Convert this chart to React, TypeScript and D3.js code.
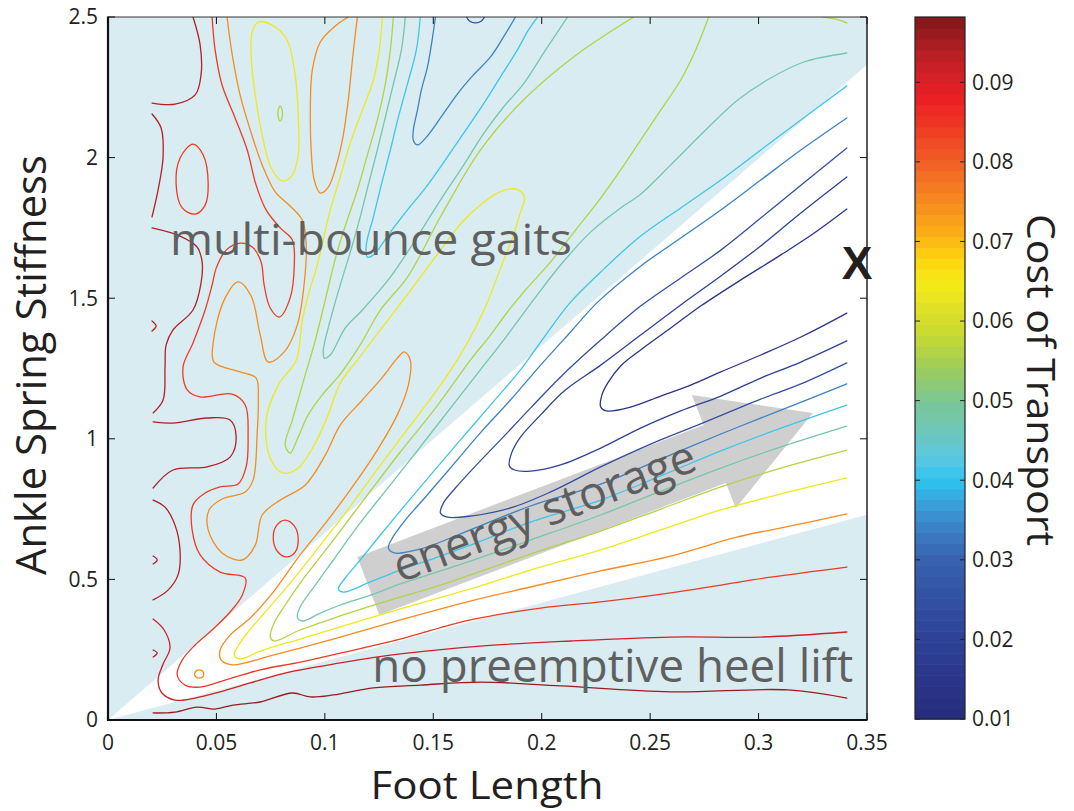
import React from 'react';
import * as d3 from 'd3';

// ---------- axes ----------
const xTicks = [0, 0.05, 0.1, 0.15, 0.2, 0.25, 0.3, 0.35];
const xTickLabels = ['0', '0.05', '0.1', '0.15', '0.2', '0.25', '0.3', '0.35'];
const yTicks = [0, 0.5, 1, 1.5, 2, 2.5];
const yTickLabels = ['0', '0.5', '1', '1.5', '2', '2.5'];
const cbTicks = [0.01, 0.02, 0.03, 0.04, 0.05, 0.06, 0.07, 0.08, 0.09];
const cbTickLabels = ['0.01', '0.02', '0.03', '0.04', '0.05', '0.06', '0.07', '0.08', '0.09'];
const cbDomain = [0.01, 0.0982];

// ---------- colormap ----------
const cmapValues = [0.01, 0.015, 0.02, 0.025, 0.03, 0.033, 0.037, 0.04, 0.043, 0.046, 0.05, 0.054, 0.058, 0.062, 0.065, 0.068, 0.071, 0.075, 0.08, 0.085, 0.088, 0.091, 0.094, 0.097, 0.099];
const cmapColors = ['#262C7C', '#2A3589', '#2E4296', '#3250A2', '#3862AE', '#3B78BF', '#3A9FDA', '#2EC3F0', '#5CC8E0', '#6DC7BC', '#7BC795', '#9DCC5C', '#C4D932', '#E2E224', '#F6EB16', '#FDD20D', '#FBAD17', '#F68B1F', '#F15F25', '#EE3624', '#EC1E24', '#D22027', '#B31F25', '#8E1A1E', '#771416'];

// ---------- regions ----------
const wedge = [[0, 0], [0.35, 2.33], [0.35, 0.73]];
const arrowShape = [[0.1251, 0.373], [0.115, 0.58], [0.2747, 1.049], [0.2692, 1.156], [0.325, 1.092], [0.2895, 0.754], [0.2849, 0.843]];

// ---------- contour lines [foot length, stiffness] ----------
const L1 = [[0.3407,1.817],[0.325,1.728],[0.3103,1.654],[0.2918,1.565],[0.2733,1.472],[0.2595,1.394],[0.2456,1.316],[0.2364,1.259],[0.2304,1.198],[0.2276,1.152],[0.2272,1.113],[0.2299,1.099],[0.241,1.113],[0.2549,1.152],[0.2687,1.191],[0.2826,1.238],[0.301,1.298],[0.3195,1.362],[0.3407,1.447]];
const L2 = [[0.3407,1.931],[0.3195,1.803],[0.301,1.686],[0.2826,1.579],[0.2641,1.476],[0.2456,1.369],[0.2272,1.262],[0.211,1.174],[0.1995,1.085],[0.1902,1.006],[0.1861,0.949],[0.1851,0.903],[0.1875,0.889],[0.1948,0.885],[0.2087,0.907],[0.2272,0.967],[0.2456,1.038],[0.2641,1.099],[0.2826,1.152],[0.301,1.216],[0.3195,1.273],[0.3407,1.348]];
const L3 = [[0.3407,2.034],[0.3195,1.902],[0.301,1.785],[0.2826,1.671],[0.2641,1.572],[0.2456,1.472],[0.2272,1.351],[0.2087,1.22],[0.1948,1.109],[0.181,0.996],[0.1694,0.903],[0.1602,0.825],[0.1547,0.772],[0.1533,0.736],[0.1561,0.722],[0.1671,0.725],[0.1856,0.754],[0.2041,0.811],[0.2272,0.9],[0.2502,0.981],[0.2733,1.053],[0.301,1.141],[0.3195,1.195],[0.3407,1.27]];
const L4 = [[0.3407,2.141],[0.3195,2.027],[0.301,1.92],[0.2826,1.814],[0.2641,1.714],[0.2456,1.614],[0.2258,1.486],[0.2133,1.38],[0.1995,1.262],[0.1856,1.138],[0.1717,1.021],[0.1579,0.896],[0.1464,0.793],[0.1371,0.711],[0.1311,0.647],[0.1293,0.612],[0.132,0.594],[0.144,0.608],[0.1671,0.676],[0.1948,0.761],[0.2272,0.839],[0.2549,0.928],[0.2826,1.017],[0.3103,1.102],[0.3407,1.195]];
const L5 = [[0.3407,2.255],[0.3195,2.134],[0.301,2.027],[0.2826,1.92],[0.2641,1.821],[0.2456,1.721],[0.2272,1.593],[0.2133,1.486],[0.2018,1.369],[0.1902,1.245],[0.1764,1.12],[0.1625,0.996],[0.1487,0.871],[0.1371,0.765],[0.1256,0.658],[0.1163,0.569],[0.1094,0.505],[0.1062,0.466],[0.1085,0.455],[0.121,0.491],[0.1348,0.533],[0.1533,0.583],[0.1671,0.622],[0.1948,0.704],[0.2272,0.782],[0.2549,0.868],[0.2826,0.957],[0.3103,1.038],[0.3407,1.12]];
const L6 = [[0.3407,2.372],[0.3209,2.34],[0.3056,2.283],[0.2904,2.205],[0.2756,2.098],[0.2595,1.974],[0.2456,1.87],[0.2364,1.821],[0.2225,1.735],[0.2087,1.618],[0.1962,1.494],[0.1842,1.369],[0.1717,1.245],[0.1579,1.109],[0.144,0.971],[0.1302,0.836],[0.1163,0.701],[0.1039,0.569],[0.0956,0.48],[0.0886,0.402],[0.0873,0.366],[0.0896,0.352],[0.0979,0.38],[0.1071,0.409],[0.121,0.444],[0.1348,0.484],[0.1533,0.53],[0.1671,0.565],[0.1948,0.64],[0.2272,0.729],[0.2549,0.814],[0.2826,0.896],[0.3103,0.971],[0.3407,1.045]];
const L7 = [[0.277,2.5],[0.271,2.383],[0.2641,2.276],[0.2549,2.169],[0.2456,2.062],[0.2364,1.956],[0.2272,1.856],[0.2156,1.742],[0.2041,1.629],[0.1925,1.529],[0.1842,1.451],[0.1764,1.369],[0.1671,1.28],[0.151,1.109],[0.1348,0.953],[0.1196,0.8],[0.1039,0.64],[0.0886,0.487],[0.0817,0.409],[0.0762,0.338],[0.0748,0.295],[0.0766,0.281],[0.0886,0.32],[0.1071,0.37],[0.121,0.405],[0.1348,0.437],[0.1533,0.48],[0.1671,0.516],[0.1948,0.59],[0.2272,0.672],[0.2549,0.75],[0.2826,0.829],[0.3103,0.896],[0.3407,0.96]];
const L8 = [[0.3407,0.861],[0.3103,0.804],[0.2826,0.747],[0.2549,0.676],[0.2272,0.605],[0.1948,0.533],[0.1671,0.466],[0.1348,0.395],[0.1071,0.331],[0.0886,0.288],[0.0702,0.245],[0.0609,0.217],[0.0582,0.231],[0.06,0.263],[0.0646,0.313],[0.0725,0.384],[0.084,0.487],[0.0979,0.622],[0.1094,0.736],[0.1233,0.882],[0.1371,1.024],[0.151,1.166],[0.1616,1.287],[0.1694,1.394],[0.1754,1.494],[0.181,1.607],[0.1865,1.714],[0.1902,1.806],[0.1921,1.856],[0.1893,1.885],[0.1847,1.888],[0.1787,1.87],[0.1717,1.831],[0.1634,1.771],[0.1533,1.671],[0.1431,1.565],[0.1362,1.494],[0.1256,1.387],[0.115,1.28],[0.1071,1.198],[0.1011,1.077],[0.0946,0.971],[0.0877,0.896],[0.0808,0.878],[0.0748,0.932],[0.0729,1.067],[0.0785,1.191],[0.0868,1.28],[0.0896,1.422],[0.0923,1.511],[0.0965,1.618],[0.1025,1.814],[0.1071,1.931],[0.1117,2.052],[0.1173,2.169],[0.1224,2.276],[0.1251,2.383],[0.1265,2.5]];
const L9 = [[0.0549,2.5],[0.0573,2.365],[0.0609,2.223],[0.0656,2.098],[0.0711,1.974],[0.0771,1.878],[0.084,1.828],[0.0896,1.778],[0.0914,1.689],[0.0905,1.554],[0.0873,1.405],[0.0813,1.309],[0.0739,1.273],[0.0702,1.369],[0.066,1.508],[0.06,1.558],[0.0536,1.494],[0.0485,1.341],[0.0489,1.273],[0.0609,1.238],[0.0683,1.216],[0.0693,1.138],[0.0688,1.021],[0.0669,0.853],[0.0633,0.811],[0.0526,0.786],[0.0466,0.747],[0.0462,0.676],[0.0526,0.594],[0.0619,0.569],[0.0679,0.622],[0.0711,0.729],[0.0794,0.782],[0.091,0.836],[0.1002,0.942],[0.1071,1.049],[0.1173,1.138],[0.127,1.223],[0.1334,1.287],[0.1367,1.309],[0.1394,1.28],[0.1385,1.191],[0.1334,1.085],[0.1242,0.96],[0.1127,0.829],[0.1011,0.708],[0.0886,0.587],[0.0762,0.455],[0.0656,0.363],[0.0563,0.302],[0.0517,0.249],[0.0522,0.213],[0.0573,0.196],[0.0633,0.203],[0.0748,0.228],[0.0886,0.256],[0.1071,0.295],[0.1348,0.356],[0.1671,0.423],[0.1948,0.473],[0.2272,0.53],[0.2595,0.583],[0.2904,0.651],[0.3149,0.69],[0.3407,0.733]];
const L10 = [[0.048,2.5],[0.0494,2.383],[0.0526,2.258],[0.0586,2.141],[0.0642,2.027],[0.0683,1.902],[0.0729,1.814],[0.0794,1.75],[0.085,1.707],[0.0859,1.618],[0.084,1.501],[0.079,1.433],[0.0748,1.465],[0.072,1.547],[0.0706,1.629],[0.0665,1.682],[0.0609,1.696],[0.0545,1.671],[0.0499,1.607],[0.048,1.547],[0.0448,1.458],[0.0392,1.341],[0.0346,1.255],[0.0365,1.174],[0.0425,1.149],[0.0573,1.159],[0.0633,1.12],[0.0646,1.006],[0.0637,0.9],[0.06,0.839],[0.0517,0.829],[0.0448,0.807],[0.0392,0.765],[0.0388,0.676],[0.0425,0.587],[0.0517,0.526],[0.0633,0.505],[0.0619,0.444],[0.0563,0.384],[0.048,0.32],[0.0402,0.267],[0.0342,0.213],[0.0319,0.16],[0.0356,0.124],[0.0425,0.117],[0.054,0.142],[0.0702,0.178],[0.0886,0.206],[0.1071,0.238],[0.1348,0.288],[0.1671,0.356],[0.1995,0.398],[0.2272,0.42],[0.2595,0.452],[0.2826,0.48],[0.3056,0.508],[0.3407,0.544]];
const L11 = [[0.3407,0.313],[0.301,0.295],[0.2595,0.295],[0.2133,0.281],[0.1717,0.263],[0.1348,0.235],[0.1071,0.203],[0.084,0.171],[0.0656,0.132],[0.0517,0.1],[0.0402,0.078],[0.0309,0.071],[0.0249,0.096],[0.0231,0.142],[0.0254,0.199],[0.0286,0.256],[0.0259,0.32],[0.0208,0.359]];
const L12 = [[0.0208,0.025],[0.0309,0.028],[0.0411,0.046],[0.0494,0.039],[0.0577,0.053],[0.0702,0.064],[0.085,0.096],[0.0933,0.082],[0.1039,0.089],[0.1224,0.114],[0.144,0.124],[0.1717,0.135],[0.2087,0.121],[0.2595,0.1],[0.3135,0.107],[0.3407,0.078]];
const edgeA = [[0.0392,2.5],[0.0425,2.4],[0.0429,2.294],[0.0402,2.223],[0.0309,2.19],[0.0203,2.194]];
const edgeB = [[0.0203,2.155],[0.0245,2.105],[0.0254,2.002],[0.0231,1.885],[0.0203,1.789]];
const edgeC = [[0.0203,1.75],[0.0332,1.721],[0.0411,1.682],[0.0434,1.629],[0.0429,1.554],[0.0392,1.458],[0.03,1.387],[0.0268,1.334],[0.0263,1.255],[0.0254,1.138],[0.0208,1.092]];
const edgeD = [[0.0203,1.419],[0.0222,1.401],[0.0203,1.383]];
const edgeE = [[0.0208,1.06],[0.03,1.056],[0.0457,1.074],[0.0563,1.067],[0.0591,1.006],[0.0563,0.935],[0.0457,0.9],[0.03,0.889],[0.0208,0.825]];
const edgeF = [[0.0208,0.782],[0.0263,0.757],[0.0309,0.693],[0.0332,0.605],[0.0323,0.516],[0.0277,0.462],[0.0208,0.427]];
const edgeG = [[0.0208,0.583],[0.0227,0.569],[0.0208,0.555]];
const edgeH = [[0.0208,0.249],[0.0227,0.238],[0.0208,0.224]];
const redLoopTop = [[0.0392,2.048],[0.0439,2.009],[0.0462,1.906],[0.0448,1.831],[0.0402,1.799],[0.0342,1.821],[0.0314,1.906],[0.0332,1.998]];
const redLoopMid = [[0.0817,0.711],[0.0859,0.69],[0.0877,0.647],[0.0863,0.597],[0.0822,0.58],[0.078,0.601],[0.0762,0.647],[0.0776,0.69]];
const yellowLoop = [[0.0693,2.482],[0.0757,2.471],[0.0826,2.418],[0.0863,2.294],[0.0877,2.151],[0.0877,2.009],[0.085,1.938],[0.0803,1.917],[0.0753,1.963],[0.0711,2.08],[0.0679,2.223],[0.066,2.365],[0.0665,2.447]];
const greenDot = [[0.0794,2.183],[0.0803,2.169],[0.0803,2.144],[0.0794,2.13],[0.0785,2.144],[0.0785,2.169]];
const orangeDot = [[0.042,0.178],[0.0439,0.171],[0.0439,0.156],[0.042,0.149],[0.0402,0.156],[0.0402,0.171]];
const orangeTop = [[0.1108,2.5],[0.1048,2.468],[0.0979,2.411],[0.0942,2.311],[0.0933,2.169],[0.0937,2.027],[0.0951,1.92],[0.0979,1.874],[0.1016,1.895],[0.1057,1.984],[0.1085,2.08],[0.1108,2.205],[0.1127,2.347],[0.114,2.436],[0.115,2.5]];
const limeValley = [[0.1316,2.5],[0.1302,2.383],[0.1279,2.262],[0.1242,2.134],[0.1196,2.009],[0.115,1.885],[0.1103,1.778],[0.1053,1.654],[0.1002,1.494],[0.0956,1.351],[0.0896,1.191],[0.085,1.067],[0.0817,0.978],[0.084,0.949],[0.0877,1.006],[0.0923,1.085],[0.0988,1.156],[0.1071,1.23],[0.1163,1.334],[0.1256,1.458],[0.1381,1.575],[0.1533,1.789],[0.1717,2.027],[0.1916,2.205],[0.2147,2.358],[0.2424,2.5]];
const greenValley = [[0.1371,2.5],[0.1353,2.383],[0.1316,2.262],[0.1279,2.144],[0.1242,2.027],[0.12,1.902],[0.1163,1.789],[0.1127,1.689],[0.1071,1.547],[0.1025,1.422],[0.0993,1.316],[0.0997,1.287],[0.1025,1.298],[0.1094,1.394],[0.1173,1.458],[0.1302,1.575],[0.1417,1.707],[0.1533,1.849],[0.1634,1.966],[0.1731,2.084],[0.1824,2.18],[0.1916,2.262],[0.2018,2.383],[0.2119,2.5]];
const cyanValley = [[0.144,2.5],[0.1422,2.383],[0.1381,2.262],[0.1339,2.144],[0.1302,2.027],[0.126,1.902],[0.1224,1.789],[0.1191,1.689],[0.1196,1.646],[0.1224,1.654],[0.1302,1.735],[0.1381,1.814],[0.1464,1.892],[0.1533,1.966],[0.1634,2.08],[0.1731,2.19],[0.181,2.287],[0.1888,2.383],[0.1939,2.454],[0.1981,2.5]];
const blueValley = [[0.151,2.5],[0.1491,2.4],[0.1473,2.322],[0.1445,2.24],[0.1427,2.169],[0.1408,2.098],[0.1408,2.062],[0.1427,2.045],[0.1473,2.077],[0.1533,2.141],[0.1611,2.226],[0.1685,2.294],[0.1764,2.358],[0.1824,2.429],[0.1879,2.5]];
const navyValley = [[0.1653,2.5],[0.1667,2.486],[0.1694,2.479],[0.1722,2.486],[0.1736,2.5]];
const limeCorner = [[0.3297,2.5],[0.3352,2.493],[0.3407,2.479]];

const contourSet = [
  { level: 0.096, pts: L12, closed: false },
  { level: 0.091, pts: L11, closed: false },
  { level: 0.094, pts: edgeA, closed: false },
  { level: 0.094, pts: edgeB, closed: false },
  { level: 0.094, pts: edgeC, closed: false },
  { level: 0.094, pts: edgeD, closed: false },
  { level: 0.094, pts: edgeE, closed: false },
  { level: 0.094, pts: edgeF, closed: false },
  { level: 0.094, pts: edgeG, closed: false },
  { level: 0.094, pts: edgeH, closed: false },
  { level: 0.0845, pts: L10, closed: false },
  { level: 0.0845, pts: redLoopTop, closed: true },
  { level: 0.0845, pts: redLoopMid, closed: true },
  { level: 0.075, pts: L9, closed: false },
  { level: 0.075, pts: orangeTop, closed: false },
  { level: 0.075, pts: orangeDot, closed: true },
  { level: 0.064, pts: L8, closed: false },
  { level: 0.064, pts: yellowLoop, closed: true },
  { level: 0.056, pts: L7, closed: false },
  { level: 0.056, pts: limeValley, closed: false },
  { level: 0.056, pts: greenDot, closed: true },
  { level: 0.056, pts: limeCorner, closed: false },
  { level: 0.048, pts: L6, closed: false },
  { level: 0.048, pts: greenValley, closed: false },
  { level: 0.041, pts: L5, closed: false },
  { level: 0.041, pts: cyanValley, closed: false },
  { level: 0.034, pts: L4, closed: false },
  { level: 0.034, pts: blueValley, closed: false },
  { level: 0.025, pts: L3, closed: false },
  { level: 0.02, pts: L2, closed: false },
  { level: 0.022, pts: navyValley, closed: false },
  { level: 0.015, pts: L1, closed: false },
];

// ---------- annotations (data coordinates) ----------
const labelMulti = { text: 'multi-bounce gaits', at: [0.0286, 1.654] };
const labelHeel = { text: 'no preemptive heel lift', at: [0.1219, 0.135] };
const labelEnergy = { text: 'energy storage', at: [0.1348, 0.487] };
const labelX = { text: 'X', at: [0.3454, 1.568] };

const FONT = "'Open Sans', 'Noto Sans', 'DejaVu Sans', sans-serif";

export default function App() {
  const x = d3.scaleLinear().domain([0, 0.35]).range([108, 867]);
  const y = d3.scaleLinear().domain([0, 2.5]).range([720, 17]);
  const cb = d3.scaleLinear().domain(cbDomain).range([719, 17]);
  const cmap = d3.scaleLinear().domain(cmapValues).range(cmapColors as any).interpolate(d3.interpolateRgb as any).clamp(true) as any;

  const openLine = d3.line().x((d: any) => x(d[0])).y((d: any) => y(d[1])).curve(d3.curveCatmullRom.alpha(0.5));
  const closedLine = d3.line().x((d: any) => x(d[0])).y((d: any) => y(d[1])).curve(d3.curveCatmullRomClosed.alpha(0.5));
  const poly = (pts: number[][]) => pts.map(p => `${x(p[0])},${y(p[1])}`).join(' ');

  const nBands = 64;
  const step = (cbDomain[1] - cbDomain[0]) / nBands;
  const bands = d3.range(nBands).map(i => cbDomain[0] + i * step);

  const px0 = x(0), px1 = x(0.35), py0 = y(0), py1 = y(2.5);

  return (
    <svg width={1074} height={811} style={{ position: 'absolute', left: 0, top: 0, background: '#fff' }} fontFamily={FONT}>
      <defs>
        <clipPath id="plotClip">
          <rect x={px0} y={py1} width={px1 - px0} height={py0 - py1} />
        </clipPath>
      </defs>
      <rect x={0} y={0} width={1074} height={811} fill="#fff" />
      {/* background regions */}
      <rect x={px0} y={py1} width={px1 - px0} height={py0 - py1} fill="#D9ECF1" />
      <polygon points={poly(wedge)} fill="#ffffff" clipPath="url(#plotClip)" />
      <polygon points={poly(arrowShape)} fill="#CFCFCF" />
      {/* contours */}
      <g clipPath="url(#plotClip)" fill="none" strokeLinejoin="round" strokeLinecap="round">
        {contourSet.map((c, i) => (
          <path key={i} d={(c.closed ? closedLine : openLine)(c.pts as any) || ''} stroke={cmap(c.level)} strokeWidth={1.3} />
        ))}
      </g>
      {/* annotations */}
      <text x={x(labelMulti.at[0])} y={y(labelMulti.at[1])} fontSize={44} fill="#606060" textLength={402} lengthAdjust="spacingAndGlyphs">{labelMulti.text}</text>
      <text x={x(labelHeel.at[0])} y={y(labelHeel.at[1])} fontSize={45} fill="#606060" textLength={481} lengthAdjust="spacingAndGlyphs">{labelHeel.text}</text>
      <text transform={`translate(${x(labelEnergy.at[0])},${y(labelEnergy.at[1])}) rotate(-20.8)`} fontSize={46} fill="#5E5E5E" textLength={320} lengthAdjust="spacingAndGlyphs">{labelEnergy.text}</text>
      <text x={x(labelX.at[0])} y={y(labelX.at[1])} fontSize={46} fontWeight="bold" fill="#231F20" textAnchor="middle" fontFamily="'Liberation Sans', Arial, sans-serif">{labelX.text}</text>
      {/* frame */}
      <line x1={px0} y1={py1} x2={px1} y2={py1} stroke="#333" strokeWidth={1} />
      <line x1={px1} y1={py1} x2={px1} y2={py0} stroke="#222" strokeWidth={1.5} />
      <line x1={px0} y1={py1 - 0.5} x2={px0} y2={py0 + 1} stroke="#111" strokeWidth={2.2} />
      <line x1={px0 - 1} y1={py0} x2={px1 + 0.5} y2={py0} stroke="#111" strokeWidth={2.2} />
      {xTicks.map((t, i) => (
        <g key={'xt' + i}>
          <line x1={x(t)} x2={x(t)} y1={py0} y2={py0 - 7} stroke="#111" strokeWidth={1} />
          <line x1={x(t)} x2={x(t)} y1={py1} y2={py1 + 7} stroke="#111" strokeWidth={1} />
          <text x={x(t)} y={750} fontSize={21} textAnchor="middle" fill="#231F20">{xTickLabels[i]}</text>
        </g>
      ))}
      {yTicks.map((t, i) => (
        <g key={'yt' + i}>
          <line x1={px0} x2={px0 + 7} y1={y(t)} y2={y(t)} stroke="#111" strokeWidth={1} />
          <line x1={px1} x2={px1 - 7} y1={y(t)} y2={y(t)} stroke="#111" strokeWidth={1} />
          <text x={98} y={y(t)} dy="0.35em" fontSize={21} textAnchor="end" fill="#231F20">{yTickLabels[i]}</text>
        </g>
      ))}
      {/* axis titles */}
      <text transform="translate(46,365) rotate(-90)" fontSize={42} textAnchor="middle" fill="#231F20" textLength={420} lengthAdjust="spacingAndGlyphs">Ankle Spring Stiffness</text>
      <text x={487} y={799} fontSize={38} textAnchor="middle" fill="#231F20" textLength={233} lengthAdjust="spacingAndGlyphs">Foot Length</text>
      {/* colorbar */}
      {bands.map((v, i) => (
        <rect key={'b' + i} x={915} width={50} y={cb(v + step)} height={cb(v) - cb(v + step) + 0.6} fill={cmap(v + step / 2)} />
      ))}
      <rect x={915} y={cb(cbDomain[1])} width={50} height={cb(cbDomain[0]) - cb(cbDomain[1])} fill="none" stroke="#222" strokeWidth={1.2} />
      {cbTicks.map((t, i) => (
        <g key={'ct' + i}>
          <line x1={915} x2={920} y1={cb(t)} y2={cb(t)} stroke="#222" strokeWidth={1} />
          <line x1={965} x2={960} y1={cb(t)} y2={cb(t)} stroke="#222" strokeWidth={1} />
          <text x={972} y={cb(t)} dy="0.35em" fontSize={21} fill="#231F20">{cbTickLabels[i]}</text>
        </g>
      ))}
      <text transform="translate(1027,380) rotate(90)" fontSize={38} textAnchor="middle" fill="#231F20" textLength={332} lengthAdjust="spacingAndGlyphs">Cost of Transport</text>
    </svg>
  );
}
